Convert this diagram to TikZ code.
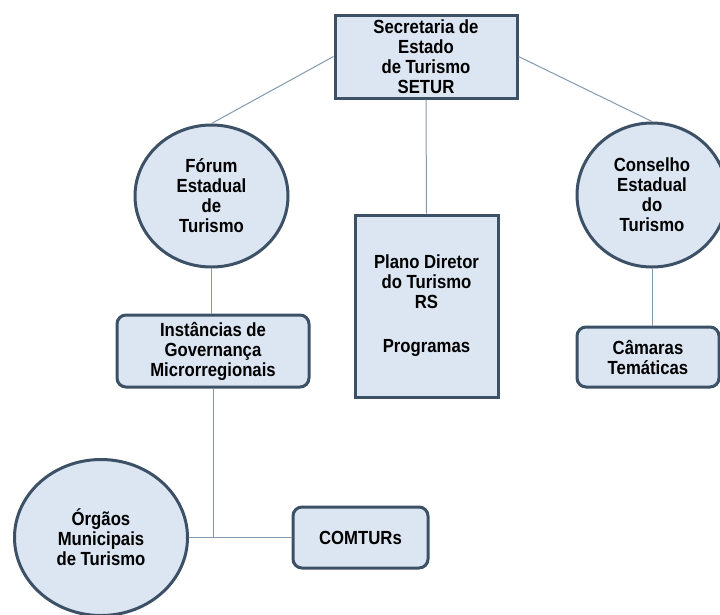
\documentclass[tikz,border=0pt]{standalone}
\usepackage{fontspec}
\setmainfont[FakeStretch=0.88]{Liberation Sans}
\usetikzlibrary{shapes.geometric}
\definecolor{boxfill}{HTML}{DCE6F2}
\definecolor{boxline}{HTML}{3C5066}
\definecolor{linkline}{HTML}{8399AD}
\tikzset{
  base/.style={draw=boxline, line width=3pt, fill=boxfill, align=center, inner sep=0pt,
    font=\fontsize{19}{20}\selectfont\bfseries},
  sqbox/.style={base, rectangle},
  rbox/.style={base, rectangle, rounded corners=9pt},
  oval/.style={base, ellipse},
  link/.style={draw=linkline, line width=1pt}
}
\begin{document}
\begin{tikzpicture}[x=1pt,y=-1pt]
\useasboundingbox (0,0) rectangle (720,614);
\clip (0,0) rectangle (720,614);
% nodes
\node[sqbox, minimum width=182pt, minimum height=83pt] (setur) at (426,56.5) {Secretaria de\\Estado\\de Turismo\\SETUR};
\node[oval, minimum width=153pt, minimum height=142pt] (forum) at (211.5,196) {Fórum\\Estadual\\de\\Turismo};
\node[oval, minimum width=150pt, minimum height=144pt] (conselho) at (652,195) {Conselho\\Estadual\\do\\Turismo};
\node[sqbox, minimum width=143pt, minimum height=182pt] (plano) at (426.5,306) {Plano Diretor\\do Turismo\\RS\\[24pt]Programas};
\node[rbox, minimum width=192pt, minimum height=72pt] (inst) at (213,351) {Instâncias de\\Governança\\Microrregionais};
\node[rbox, minimum width=142pt, minimum height=60pt] (camaras) at (648,357) {Câmaras\\Temáticas};
\node[oval, minimum width=173pt, minimum height=156pt] (orgaos) at (101,537.5) {Órgãos\\Municipais\\de Turismo};
\node[rbox, minimum width=135pt, minimum height=61pt] (comturs) at (360.5,537.5) {COMTURs};
\coordinate (joint) at (inst.south |- orgaos.east);
% connectors
\draw[link] (setur.west) -- (forum.north);
\draw[link] (setur.east) -- (conselho.north);
\draw[link] (setur.south) -- (plano.north);
\draw[link] (forum.south) -- (forum.south |- inst.north);
\draw[link] (conselho.south) -- (conselho.south |- camaras.north);
\draw[link] (inst.south) -- (joint);
\draw[link] (orgaos.east) -- (comturs.west);
\end{tikzpicture}
\end{document}
